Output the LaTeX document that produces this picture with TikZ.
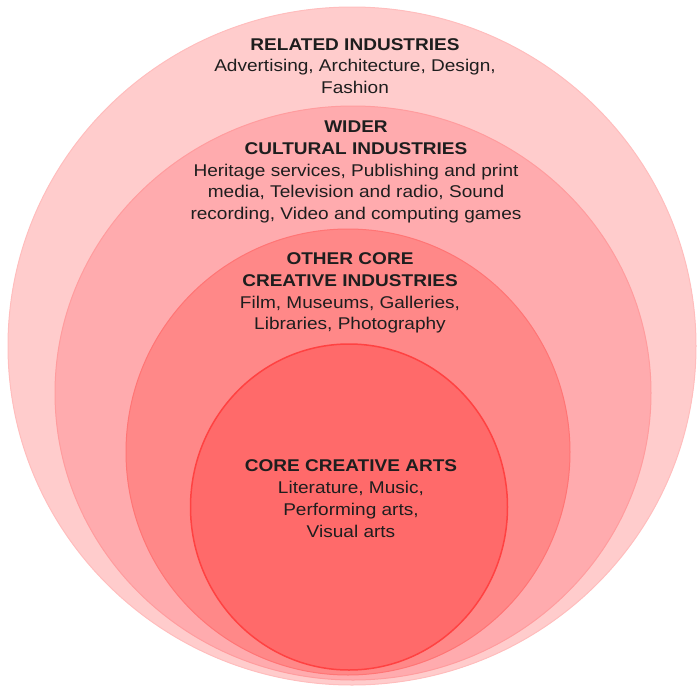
\documentclass[tikz,border=0pt]{standalone}
\usepackage{fontspec}
\setmainfont[FakeStretch=1.12]{Liberation Sans}
\usetikzlibrary{shapes.geometric}
\definecolor{ringA}{HTML}{FFCCCC}
\definecolor{ringAline}{HTML}{FFBDBD}
\definecolor{ringB}{HTML}{FFABAE}
\definecolor{ringBline}{HTML}{FF9C9E}
\definecolor{ringC}{HTML}{FF8888}
\definecolor{ringCline}{HTML}{FF7575}
\definecolor{ringD}{HTML}{FF6A6A}
\definecolor{ringDline}{HTML}{FF4242}
\definecolor{txt}{HTML}{1E1E1E}
\tikzset{
  ring/.style={ellipse, inner sep=0pt, line width=1pt},
  txtblock/.style={align=center, text=txt, font=\fontsize{17}{21.8}\selectfont, inner sep=0pt},
}
\newcommand{\hd}[1]{{\bfseries #1}}
\begin{document}
\begin{tikzpicture}[x=1pt,y=-1pt]
\useasboundingbox (0,0) rectangle (697,686);
\node[ring, draw=ringAline, fill=ringA, minimum width=688pt, minimum height=678pt] (outer) at (352,346) {};
\node[ring, draw=ringBline, fill=ringB, minimum width=596pt, minimum height=574pt] (wider) at (353,393) {};
\node[ring, draw=ringCline, fill=ringC, minimum width=444pt, minimum height=446pt] (other) at (348,452) {};
\node[ring, draw=ringDline, fill=ringD, line width=1.5pt, minimum width=317pt, minimum height=326pt] (core) at (349,507) {};

\node[txtblock] (t1) at (355,66) {\hd{RELATED INDUSTRIES}\\Advertising, Architecture, Design,\\Fashion};
\node[txtblock] (t2) at (356,172) {\hd{WIDER}\\\hd{CULTURAL INDUSTRIES}\\Heritage services, Publishing and print\\media, Television and radio, Sound\\recording, Video and computing games};
\node[txtblock] (t3) at (350,293) {\hd{OTHER CORE}\\\hd{CREATIVE INDUSTRIES}\\Film, Museums, Galleries,\\Libraries, Photography};
\node[txtblock] (t4) at (351,498.5) {\hd{CORE CREATIVE ARTS}\\Literature, Music,\\Performing arts,\\Visual arts};
\end{tikzpicture}
\end{document}
